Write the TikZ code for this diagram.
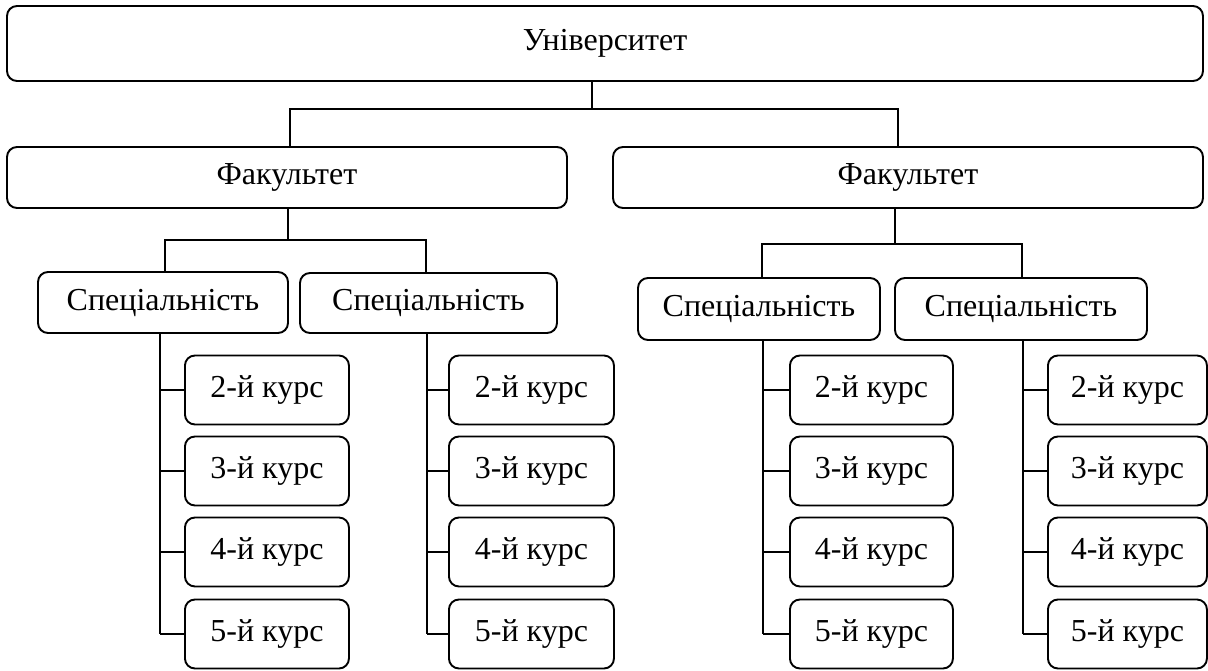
\documentclass[tikz,border=0pt]{standalone}
\usepackage{fontspec}
\setmainfont{Liberation Serif}
\usetikzlibrary{positioning}
\usetikzlibrary{calc}

\begin{document}
\begin{tikzpicture}[
  x=1pt,y=-1pt,
  dep/.style={
    -,line width=1.9pt
  },
  unit/.style 2 args={
    rectangle,
    rounded corners=10pt,
    draw=black,
    line width=1.9pt,
    minimum width=#1,
    minimum height=#2,
    inner sep=0pt,
    font=\fontsize{32}{34}\selectfont},
]

  \def\crsh{69pt}%

  \useasboundingbox (0,0) rectangle (1208,670);

    % University and faculties
  \node[unit={1196pt}{75pt}] (uni) at (605,43.5) {Університет};
  \node[unit={560pt}{61pt}] (fac1) at (287,177.5) {Факультет};
  \node[unit={590pt}{61pt}] (fac2) at (908,177.5) {Факультет};

  \coordinate (ubus) at (592,109);
  \coordinate (ul) at (290,109);
  \coordinate (ur) at (898,109);
  \draw[dep] (uni.south -| ubus) -- (ubus);
  \draw[dep] (fac1.north -| ul) -- (ul) -- (ur) -- (fac2.north -| ur);

    % Specialities
  \foreach \name/\cx/\cy/\w/\h in {spec1/163/302.5/250/61,
      spec2/428.5/303/257/60, spec3/759/309/242/62, spec4/1021/309/252/62} {
    \node[unit={\w pt}{\h pt}] (\name) at (\cx,\cy) {Спеціальність};
  }

  \coordinate (fb1) at (288,240);
  \coordinate (fl1) at (165,240);
  \coordinate (fr1) at (426,240);
  \draw[dep] (fac1.south -| fb1) -- (fb1);
  \draw[dep] (spec1.north -| fl1) -- (fl1) -- (fr1) -- (spec2.north -| fr1);

  \coordinate (fb2) at (895,244);
  \coordinate (fl2) at (762,244);
  \coordinate (fr2) at (1022,244);
  \draw[dep] (fac2.south -| fb2) -- (fb2);
  \draw[dep] (spec3.north -| fl2) -- (fl2) -- (fr2) -- (spec4.north -| fr2);

    % Courses
  \foreach \col/\lx/\sx/\w in {1/184/160/164, 2/448/427/165,
      3/789/763/163, 4/1047/1023/159} {
    \coordinate (sp\col) at (\sx,0);
    \foreach \yr/\cy in {2/390, 3/471, 4/552, 5/634} {
      \node[unit={\w pt}{\crsh}, anchor=west] (c\col_\yr) 
          at (\lx,\cy) {\yr-й курс};
      \draw[dep] (c\col_\yr.west) -- (c\col_\yr.west -| sp\col);
    }
    \draw[dep] (spec\col.south -| sp\col) -- (c\col_5.west -| sp\col);
  }

\end{tikzpicture}
\end{document}
